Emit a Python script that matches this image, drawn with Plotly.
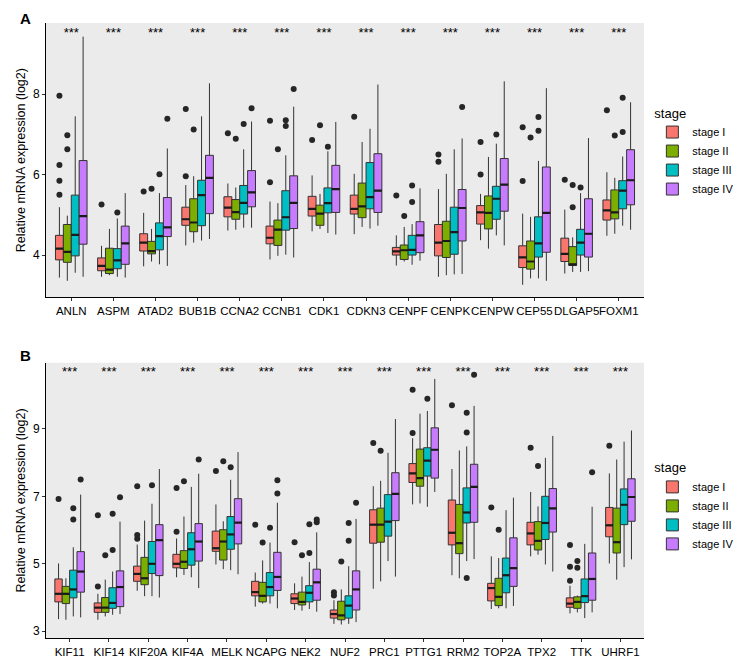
import plotly.graph_objects as go

stages = ["stage I", "stage II", "stage III", "stage IV"]
colors = ["#F8766D", "#7CAE00", "#00BFC4", "#C77CFF"]

# ---- panel A ----
genes_a = ["ANLN", "ASPM", "ATAD2", "BUB1B", "CCNA2", "CCNB1", "CDK1", "CDKN3",
           "CENPF", "CENPK", "CENPW", "CEP55", "DLGAP5", "FOXM1"]

# (lower whisker, q1, median, q3, upper whisker) per gene
a_stage1 = [(3.44, 3.88, 4.16, 4.49, 5.19), (3.46, 3.61, 3.73, 3.93, 4.23), (3.72, 4.10, 4.31, 4.53, 5.05),
            (4.24, 4.74, 4.89, 5.19, 5.74), (4.61, 4.95, 5.18, 5.45, 5.78), (3.89, 4.28, 4.43, 4.72, 5.33),
            (4.59, 4.97, 5.15, 5.46, 5.98), (4.52, 5.02, 5.15, 5.49, 6.02), (3.74, 4.00, 4.09, 4.19, 4.49),
            (3.46, 3.98, 4.31, 4.76, 5.64), (4.37, 4.77, 5.06, 5.23, 5.52), (3.26, 3.69, 3.94, 4.23, 5.03),
            (3.54, 3.84, 4.03, 4.42, 5.13), (4.48, 4.87, 5.11, 5.37, 6.06)]
a_stage2 = [(3.36, 3.82, 4.08, 4.76, 4.98), (3.50, 3.54, 3.64, 4.17, 4.65), (3.84, 4.03, 4.10, 4.34, 4.65),
            (4.31, 4.58, 4.81, 5.40, 5.96), (4.63, 4.89, 5.07, 5.38, 5.68), (3.98, 4.24, 4.63, 4.87, 5.29),
            (4.65, 4.74, 5.03, 5.24, 5.52), (4.70, 4.93, 5.21, 5.79, 6.81), (3.84, 3.89, 4.12, 4.25, 4.70),
            (3.50, 3.94, 4.35, 4.84, 6.02), (4.16, 4.65, 5.05, 5.47, 6.44), (3.42, 3.65, 3.84, 4.35, 4.95),
            (3.58, 3.74, 3.77, 4.21, 4.44), (4.53, 4.90, 5.06, 5.62, 5.92)]
a_stage3 = [(3.56, 3.98, 4.50, 5.49, 7.45), (3.46, 3.66, 3.87, 4.16, 4.91), (3.77, 4.13, 4.47, 4.80, 5.54),
            (4.36, 4.73, 5.49, 5.86, 7.45), (4.68, 5.02, 5.30, 5.73, 6.63), (4.01, 4.62, 4.94, 5.60, 6.48),
            (4.55, 5.05, 5.29, 5.67, 6.58), (4.66, 5.15, 5.44, 6.30, 7.14), (3.76, 4.00, 4.13, 4.49, 4.77),
            (3.52, 4.02, 4.57, 5.19, 6.63), (4.49, 4.89, 5.40, 5.71, 6.77), (3.42, 3.95, 4.29, 4.95, 6.34),
            (3.58, 4.00, 4.31, 4.64, 5.54), (4.73, 5.15, 5.60, 5.85, 6.45)]
a_stage4 = [(3.46, 4.27, 4.97, 6.35, 9.43), (3.44, 3.77, 4.29, 4.72, 5.54), (3.73, 4.46, 4.69, 5.43, 6.65),
            (4.40, 5.03, 5.92, 6.48, 8.27), (4.68, 5.20, 5.56, 6.10, 7.32), (3.94, 4.66, 5.30, 5.97, 7.69),
            (4.51, 5.06, 5.64, 6.23, 7.31), (4.73, 5.06, 5.60, 6.52, 8.24), (3.86, 4.06, 4.49, 4.83, 5.66),
            (3.53, 4.35, 5.17, 5.63, 6.90), (4.24, 5.09, 5.75, 6.40, 8.32), (3.36, 4.07, 5.05, 6.19, 8.15),
            (3.60, 3.95, 4.53, 5.40, 6.91), (4.63, 5.25, 5.86, 6.62, 7.80)]

a_out1 = [[7.96, 6.24, 5.85, 5.5], [5.26], [5.58], [7.63, 5.96], [7.03], [7.34, 5.81], [6.86], [7.44],
          [5.48], [6.5, 6.32], [6.81, 6.0], [7.18, 5.84], [5.87], [7.6]]
a_out2 = [[6.98, 6.63], [], [5.65], [7.12], [6.89], [6.63], [7.23], [], [4.97], [], [], [6.92],
          [5.74, 5.19], [6.97]]
a_out3 = [[], [5.06], [6.01], [], [7.26], [7.35, 7.21], [6.69], [], [5.73, 5.32], [], [7.0], [7.43, 7.09],
          [5.68], [7.91, 7.06]]
a_out4 = [[], [], [7.39], [], [7.65], [8.13], [], [], [], [7.68], [], [], [], []]

# ---- panel B ----
genes_b = ["KIF11", "KIF14", "KIF20A", "KIF4A", "MELK", "NCAPG", "NEK2", "NUF2",
           "PRC1", "PTTG1", "RRM2", "TOP2A", "TPX2", "TTK", "UHRF1"]

b_stage1 = [(3.36, 3.87, 4.11, 4.55, 5.01), (3.34, 3.56, 3.70, 3.84, 4.11), (4.20, 4.48, 4.70, 4.93, 5.57),
            (4.60, 4.88, 5.00, 5.28, 5.75), (4.98, 5.37, 5.46, 5.97, 6.76), (3.73, 4.05, 4.16, 4.48, 4.74),
            (3.63, 3.82, 3.97, 4.11, 4.42), (3.22, 3.39, 3.51, 3.63, 3.92), (4.26, 5.61, 6.16, 6.60, 7.30),
            (6.76, 7.41, 7.68, 7.97, 8.72), (4.66, 5.56, 5.92, 6.89, 7.81), (3.66, 3.90, 4.28, 4.42, 5.22),
            (5.22, 5.56, 5.90, 6.23, 7.13), (3.53, 3.71, 3.82, 3.99, 4.35), (5.01, 5.80, 6.14, 6.67, 7.68)]
b_stage2 = [(3.34, 3.82, 4.11, 4.33, 4.57), (3.44, 3.56, 3.70, 4.00, 4.53), (4.04, 4.38, 4.57, 5.19, 6.28),
            (4.67, 4.86, 5.06, 5.39, 6.40), (4.84, 5.11, 5.66, 6.01, 6.26), (3.82, 3.87, 4.05, 4.45, 5.10),
            (3.61, 3.78, 3.87, 4.16, 4.62), (3.20, 3.34, 3.47, 3.89, 4.24), (4.48, 5.64, 6.16, 6.65, 7.46),
            (6.79, 7.30, 7.54, 8.40, 9.45), (4.57, 5.30, 5.61, 6.76, 8.36), (3.68, 3.76, 4.02, 4.57, 5.17),
            (5.27, 5.41, 5.68, 6.25, 6.70), (3.56, 3.68, 3.87, 4.02, 4.06), (4.53, 5.32, 5.64, 6.65, 8.09)]
b_stage3 = [(3.44, 3.99, 4.24, 4.81, 5.49), (3.49, 3.68, 3.84, 4.29, 4.77), (4.04, 4.71, 5.00, 5.66, 6.78),
            (4.60, 4.96, 5.43, 5.92, 7.28), (4.81, 5.43, 5.87, 6.40, 7.49), (3.82, 4.05, 4.31, 4.74, 5.63),
            (3.66, 3.87, 4.14, 4.35, 5.05), (3.22, 3.39, 3.76, 4.05, 4.93), (5.08, 5.82, 6.25, 7.05, 8.29),
            (6.69, 7.60, 8.06, 8.44, 9.53), (5.08, 6.21, 6.52, 7.25, 8.48), (3.68, 4.14, 4.66, 5.17, 6.59),
            (4.98, 5.72, 6.21, 7.00, 8.14), (3.39, 3.85, 4.04, 4.55, 5.59), (4.90, 6.16, 6.75, 7.22, 8.62)]
b_stage4 = [(3.41, 4.16, 4.77, 5.36, 7.05), (3.51, 3.73, 4.31, 4.79, 6.25), (4.00, 4.65, 5.70, 6.16, 7.81),
            (4.28, 5.08, 5.66, 6.19, 7.67), (4.69, 5.59, 6.22, 6.93, 8.31), (3.68, 4.21, 4.61, 5.34, 6.81),
            (3.58, 3.92, 4.45, 4.84, 5.93), (3.27, 3.63, 4.24, 4.79, 6.33), (4.62, 6.28, 7.07, 7.70, 9.29),
            (7.13, 7.54, 8.38, 9.03, 10.48), (5.14, 6.23, 7.28, 7.95, 9.68), (3.75, 4.33, 4.87, 5.77, 6.96),
            (4.77, 5.94, 6.64, 7.23, 8.79), (3.56, 3.92, 4.55, 5.32, 6.69), (5.13, 6.26, 6.98, 7.52, 8.95)]

b_out1 = [[6.92], [6.44, 4.33], [7.3, 5.85, 5.74], [7.25, 5.95], [7.75], [6.16], [5.64], [4.16, 4.06],
          [8.58], [10.16, 8.88], [9.7], [6.67], [8.44], [5.56, 4.91, 4.5], [8.5]]
b_out2 = [[], [5.25], [], [7.45], [8.04], [5.63], [5.25], [5.07], [8.35], [], [], [6.01], [7.9],
          [5.08, 4.88], []]
b_out3 = [[6.65, 6.31], [6.48, 5.41], [7.33], [], [7.86], [6.07], [6.17, 5.32], [6.21, 5.68], [], [9.89],
          [9.48, 8.89, 4.58], [], [], [], []]
b_out4 = [[7.5], [6.97], [], [8.09], [], [7.48, 7.08], [6.31, 6.23], [6.81], [], [], [10.6], [], [], [7.71], []]

panels = [
    dict(genes=genes_a, boxes=[a_stage1, a_stage2, a_stage3, a_stage4],
         outs=[a_out1, a_out2, a_out3, a_out4], star_y=9.5, xa="x", ya="y", legend="legend"),
    dict(genes=genes_b, boxes=[b_stage1, b_stage2, b_stage3, b_stage4],
         outs=[b_out1, b_out2, b_out3, b_out4], star_y=10.66, xa="x2", ya="y2", legend="legend2"),
]

bw = 0.75 / 4   # dodge width split over 4 stages
edge = "#333333"
fig = go.Figure()

for p in panels:
    n = len(p["genes"])
    for s in range(4):
        off = (s - 1.5) * bw
        xs = [i + off for i in range(n)]
        st = p["boxes"][s]
        fig.add_trace(go.Box(
            x=xs, lowerfence=[b[0] for b in st], q1=[b[1] for b in st], median=[b[2] for b in st],
            q3=[b[3] for b in st], upperfence=[b[4] for b in st],
            width=bw, whiskerwidth=0, boxpoints=False,
            fillcolor=colors[s], line=dict(color=edge, width=1),
            name=stages[s], legend=p["legend"], xaxis=p["xa"], yaxis=p["ya"], hoverinfo="skip"))
        # thicker median bar like ggplot
        mx, my = [], []
        for x, b in zip(xs, st):
            mx += [x - bw / 2, x + bw / 2, None]
            my += [b[2], b[2], None]
        fig.add_trace(go.Scatter(x=mx, y=my, mode="lines", line=dict(color="#1a1a1a", width=2.2),
                                 showlegend=False, hoverinfo="skip", xaxis=p["xa"], yaxis=p["ya"]))
        ox, oy = [], []
        for x, pts in zip(xs, p["outs"][s]):
            ox += [x] * len(pts)
            oy += pts
        fig.add_trace(go.Scatter(x=ox, y=oy, mode="markers", marker=dict(color="#262626", size=6),
                                 showlegend=False, hoverinfo="skip", xaxis=p["xa"], yaxis=p["ya"]))
    fig.add_trace(go.Scatter(x=list(range(n)), y=[p["star_y"]] * n, mode="text", text=["***"] * n,
                             textfont=dict(size=13, color="#000000"), showlegend=False, hoverinfo="skip",
                             xaxis=p["xa"], yaxis=p["ya"]))

axis_common = dict(showgrid=False, zeroline=False, showline=True, linecolor="black", linewidth=1,
                   ticks="outside", ticklen=3, tickcolor=edge, tickfont=dict(size=12, color="black"))
ytitle = dict(text="Relative mRNA expression (log2)", font=dict(size=12.5), standoff=4)

fig.update_layout(
    width=743, height=662,
    margin=dict(l=33, r=83, t=15, b=17),
    paper_bgcolor="white", plot_bgcolor="#EBEBEB",
    font=dict(family="Liberation Sans, Arial, sans-serif", color="black"),
    xaxis=dict(axis_common, domain=[0, 1], anchor="y", range=[-0.6, len(genes_a) - 0.4],
               tickvals=list(range(len(genes_a))), ticktext=genes_a, tickangle=0,
               tickfont=dict(size=11.5, color="black")),
    yaxis=dict(axis_common, domain=[0.554, 1], anchor="x", range=[2.95, 9.77], tickvals=[4, 6, 8],
               title=ytitle),
    xaxis2=dict(axis_common, domain=[0, 1], anchor="y2", range=[-0.6, len(genes_b) - 0.4],
                tickvals=list(range(len(genes_b))), ticktext=genes_b, tickangle=0,
                tickfont=dict(size=11.5, color="black")),
    yaxis2=dict(axis_common, domain=[0, 0.4476], anchor="x2", range=[2.8, 10.96], tickvals=[3, 5, 7, 9],
                title=ytitle),
    legend=dict(title=dict(text="stage", font=dict(size=13)), font=dict(size=11),
                x=1.014, xanchor="left", y=0.79, yanchor="middle", tracegroupgap=2),
    legend2=dict(title=dict(text="stage", font=dict(size=13)), font=dict(size=11),
                 x=1.014, xanchor="left", y=0.213, yanchor="middle", tracegroupgap=2),
    annotations=[
        dict(text="<b>A</b>", x=-0.034, y=1.008, xref="paper", yref="paper", showarrow=False,
             font=dict(size=15), xanchor="center", yanchor="middle"),
        dict(text="<b>B</b>", x=-0.034, y=0.46, xref="paper", yref="paper", showarrow=False,
             font=dict(size=15), xanchor="center", yanchor="middle"),
    ],
)

fig.write_html("out.html")
